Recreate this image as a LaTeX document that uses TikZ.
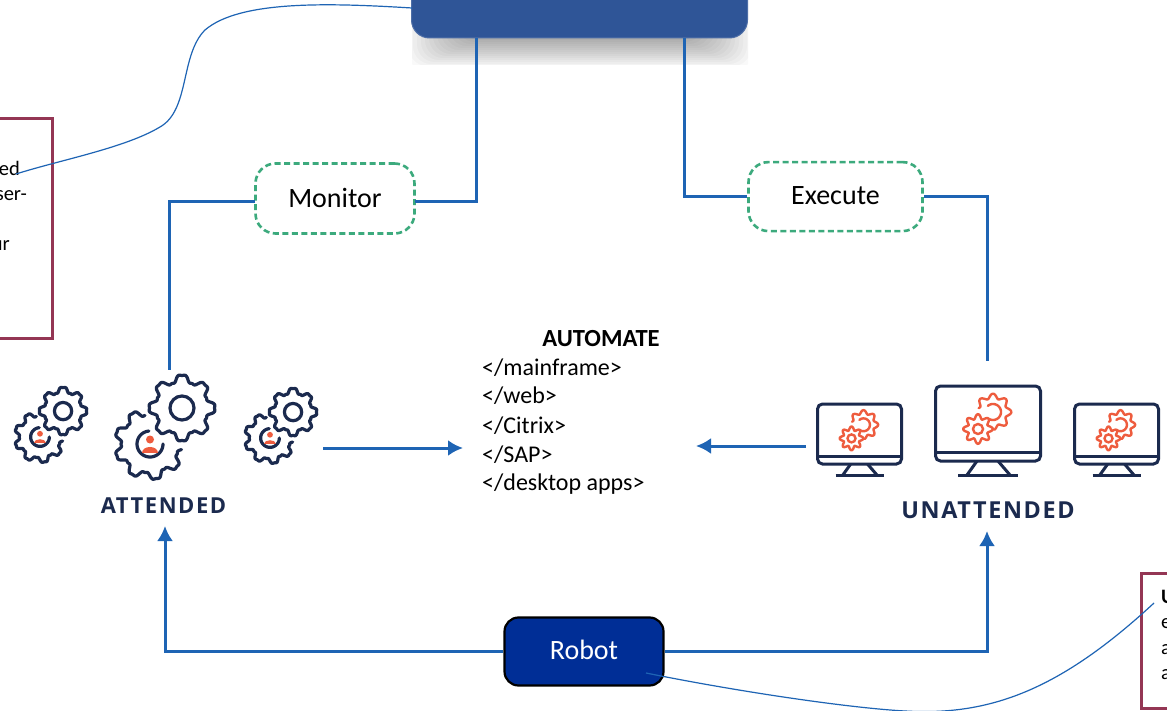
\documentclass[tikz,border=0pt]{standalone}
\usepackage{tikz}
\usepackage{xcolor}
\usepackage{fontspec}
\setmainfont{Carlito}
\newfontfamily\badgefont[LetterSpace=7]{Open Sans}
\usetikzlibrary{arrows.meta}

\definecolor{linkblue}{RGB}{30,100,180}
\definecolor{topblue}{RGB}{47,85,151}
\definecolor{robotblue}{RGB}{0,46,150}
\definecolor{notered}{RGB}{148,54,84}
\definecolor{dashgreen}{RGB}{60,170,125}
\definecolor{iconnavy}{RGB}{27,42,78}
\definecolor{iconorange}{RGB}{238,92,62}

\tikzset{
    bluelink/.style={draw=linkblue, line width=3pt},
    bluearrow/.style={bluelink, -{Latex[length=15pt,width=16pt]}},
    thinlink/.style={draw=linkblue, line width=1.2pt},
    tagbox/.style={draw=dashgreen, dashed, dash pattern=on 6pt off 3.5pt, line width=2.6pt, rounded corners=20pt, fill=white, text depth=2pt, font=\fontsize{28}{32}\selectfont},
    notebox/.style={draw=notered, line width=3pt, fill=white},
    notetext/.style={font=\fontsize{20.5}{24}\selectfont, inner sep=0pt},
    listtext/.style={font=\fontsize{24}{28}\selectfont, inner sep=0pt, anchor=west},
    badge/.style={text=iconnavy, inner sep=0pt}
}

% one cog outline: centre x, centre y, radius, teeth, from angle, to angle
\newcommand{\cogwheel}[6]{
    \draw plot[domain=#5:#6, samples=220, smooth, variable=\t] ({#1+(#3+3.9*(cos(#4*\t)-0.22*cos(3*#4*\t)))*cos(\t)},{#2+(#3+3.9*(cos(#4*\t)-0.22*cos(3*#4*\t)))*sin(\t)});
}
% the two cogs with a person inside
\newcommand{\gearset}[3]{
    \begin{scope}[shift={(#1,#2)}, scale=#3]
        \begin{scope}[draw=iconnavy, line width=3.2pt, line cap=round]
            \cogwheel{0}{0}{32}{9}{-350}{-100}
            \cogwheel{32}{-36}{29.5}{8}{0}{360}
            \draw (32,-36) circle (12);
            \draw plot[domain=-360:-95, samples=40, variable=\t] ({13*cos(\t)},{13*sin(\t)});
        \end{scope}
        \fill[iconorange] (0,-4.5) circle (4);
        \fill[iconorange] (-8,9) .. controls (-8,1) and (8,1) .. (8,9) -- cycle;
    \end{scope}
}
% a screen with two orange cogs
\newcommand{\screenset}[3]{
    \begin{scope}[shift={(#1,#2)}, scale=#3]
        \begin{scope}[draw=iconnavy, line width=3pt]
            \draw[rounded corners=5pt] (-52.5,-37.5) rectangle (52.5,37.5);
            \draw (-52.5,28.5) -- (52.5,28.5);
            \draw (-11,37.5) -- (-21,51.5);
            \draw (10,37.5) -- (22,51.5);
            \draw (-30,51.5) -- (30,51.5);
        \end{scope}
        \begin{scope}[draw=iconorange, line width=2.4pt, line cap=round]
            \draw plot[domain=0:360, samples=120, smooth, variable=\t] ({-10+(12.5+2.3*cos(8*\t))*cos(\t)},{5.5+(12.5+2.3*cos(8*\t))*sin(\t)});
            \draw (-10,5.5) circle (5);
            \draw plot[domain=-525:-275, samples=90, smooth, variable=\t] ({5+(16+2.3*cos(8*\t))*cos(\t)},{-11.5+(16+2.3*cos(8*\t))*sin(\t)});
            \draw plot[domain=-490:-245, samples=30, variable=\t] ({5+8*cos(\t)},{-11.5+8*sin(\t)});
        \end{scope}
    \end{scope}
}

\begin{document}
\begin{tikzpicture}[x=1pt,y=-1pt]
    \clip (0,0) rectangle (1167,711);
    \fill[white] (0,0) rectangle (1167,711);

    % soft shadow under the top box
    \begin{scope}
        \clip (412,0) rectangle (748,65);
        \foreach \i in {0,...,15} {
            \fill[black, opacity=0.022, rounded corners=18pt] (405+4*\i,0) rectangle (755-4*\i,68-2*\i);
        }
    \end{scope}

    % top box and robot
    \node[draw=topblue!85!white, fill=topblue, line width=1pt, rounded corners=18pt, minimum width=336pt, minimum height=78pt, inner sep=0pt] (orchestrator) at (579.5,-1) {};
    \node[draw=black, fill=robotblue, text=white, line width=2.2pt, rounded corners=14pt, minimum width=159pt, minimum height=68pt, inner sep=0pt, text depth=4pt, font=\fontsize{28}{32}\selectfont] (robot) at (584,651.5) {Robot};

    % labels on the lines
    \node[tagbox, minimum width=159pt, minimum height=70pt, inner sep=0pt] (monitor) at (335,198.5) {Monitor};
    \node[tagbox, minimum width=174pt, minimum height=69pt, inner sep=0pt] (execute) at (835.5,196.6) {Execute};

    % note boxes, cut off by the page
    \node[notebox, minimum width=80pt, minimum height=219pt, inner sep=0pt] (attnote) at (12,228.5) {};
    \node[notebox, minimum width=90pt, minimum height=135pt, inner sep=0pt] (unnote) at (1186,640.5) {};
    \node[notetext, anchor=east] (attline1) at (20,168) {ed};
    \node[notetext, anchor=east] (attline2) at (27,196) {ser-};
    \node[notetext, anchor=east] (attline3) at (10,246) {ur};
    \node[notetext, anchor=west] (unline1) at (1161,597) {\textbf{U}};
    \node[notetext, anchor=west] (unline2) at (1161,624) {e};
    \node[notetext, anchor=west] (unline3) at (1161,650) {a};
    \node[notetext, anchor=west] (unline4) at (1161,675) {a};

    % middle text
    \node[font=\fontsize{24.6}{28}\selectfont\bfseries, inner sep=0pt] (automate) at (601,338.5) {AUTOMATE};
    \node[listtext] (mainframe) at (482,368) {</mainframe>};
    \node[listtext] (web) at (482,396) {</web>};
    \node[listtext] (citrix) at (482,426) {</Citrix>};
    \node[listtext] (sap) at (482,455) {</SAP>};
    \node[listtext] (desktop) at (482,484) {</desktop apps>};

    % icons
    \gearset{40}{437}{0.72}
    \gearset{150}{444}{1}
    \gearset{270}{438}{0.72}
    \screenset{859.5}{434}{0.8}
    \screenset{988}{423.5}{1}
    \screenset{1116.5}{434}{0.8}
    \node[badge, font=\fontsize{22}{26}\badgefont\bfseries] (attended) at (163.5,506) {ATTENDED};
    \node[badge, font=\fontsize{23.4}{28}\badgefont\bfseries] (unattended) at (988,510) {UNATTENDED};

    % free ends of the lines
    \coordinate (orchleft) at (476,38);
    \coordinate (orchright) at (684,38);
    \coordinate (monitorright) at (415,202);
    \coordinate (monitorleft) at (255,202);
    \coordinate (attendedtop) at (169,370);
    \coordinate (unattendedtop) at (987,361);
    \coordinate (attendedright) at (323,448);
    \coordinate (automateleft) at (463,448);
    \coordinate (unattendedleft) at (806,446);
    \coordinate (automateright) at (696,446);
    \coordinate (attendedbottom) at (165,526);
    \coordinate (unattendedbottom) at (987,531);
    \coordinate (robotcorner) at (646,673);
    \coordinate (attnotetip) at (16,174);
    \coordinate (unnotetip) at (1154,603);
    \coordinate (orchside) at (412,8);

    % connectors
    \draw[bluelink] (orchleft) |- (monitorright);
    \draw[bluelink] (monitorleft) -| (attendedtop);
    \draw[bluelink] (orchright) |- (execute.west);
    \draw[bluelink] (execute.east) -| (unattendedtop);
    \draw[bluearrow] (attendedright) -- (automateleft);
    \draw[bluearrow] (unattendedleft) -- (automateright);
    \draw[bluearrow] (robot.west) -| (attendedbottom);
    \draw[bluearrow] (robot.east) -| (unattendedbottom);

    % thin callout lines
    \draw[thinlink] (orchside) .. controls (330,3) and (240,0) .. (205,30) .. controls (180,55) and (190,110) .. (160,127) .. controls (125,148) and (60,160) .. (attnotetip);
    \draw[thinlink] (robotcorner) .. controls (740,692) and (850,708) .. (905,711) .. controls (990,716) and (1060,690) .. (unnotetip);
\end{tikzpicture}
\end{document}
